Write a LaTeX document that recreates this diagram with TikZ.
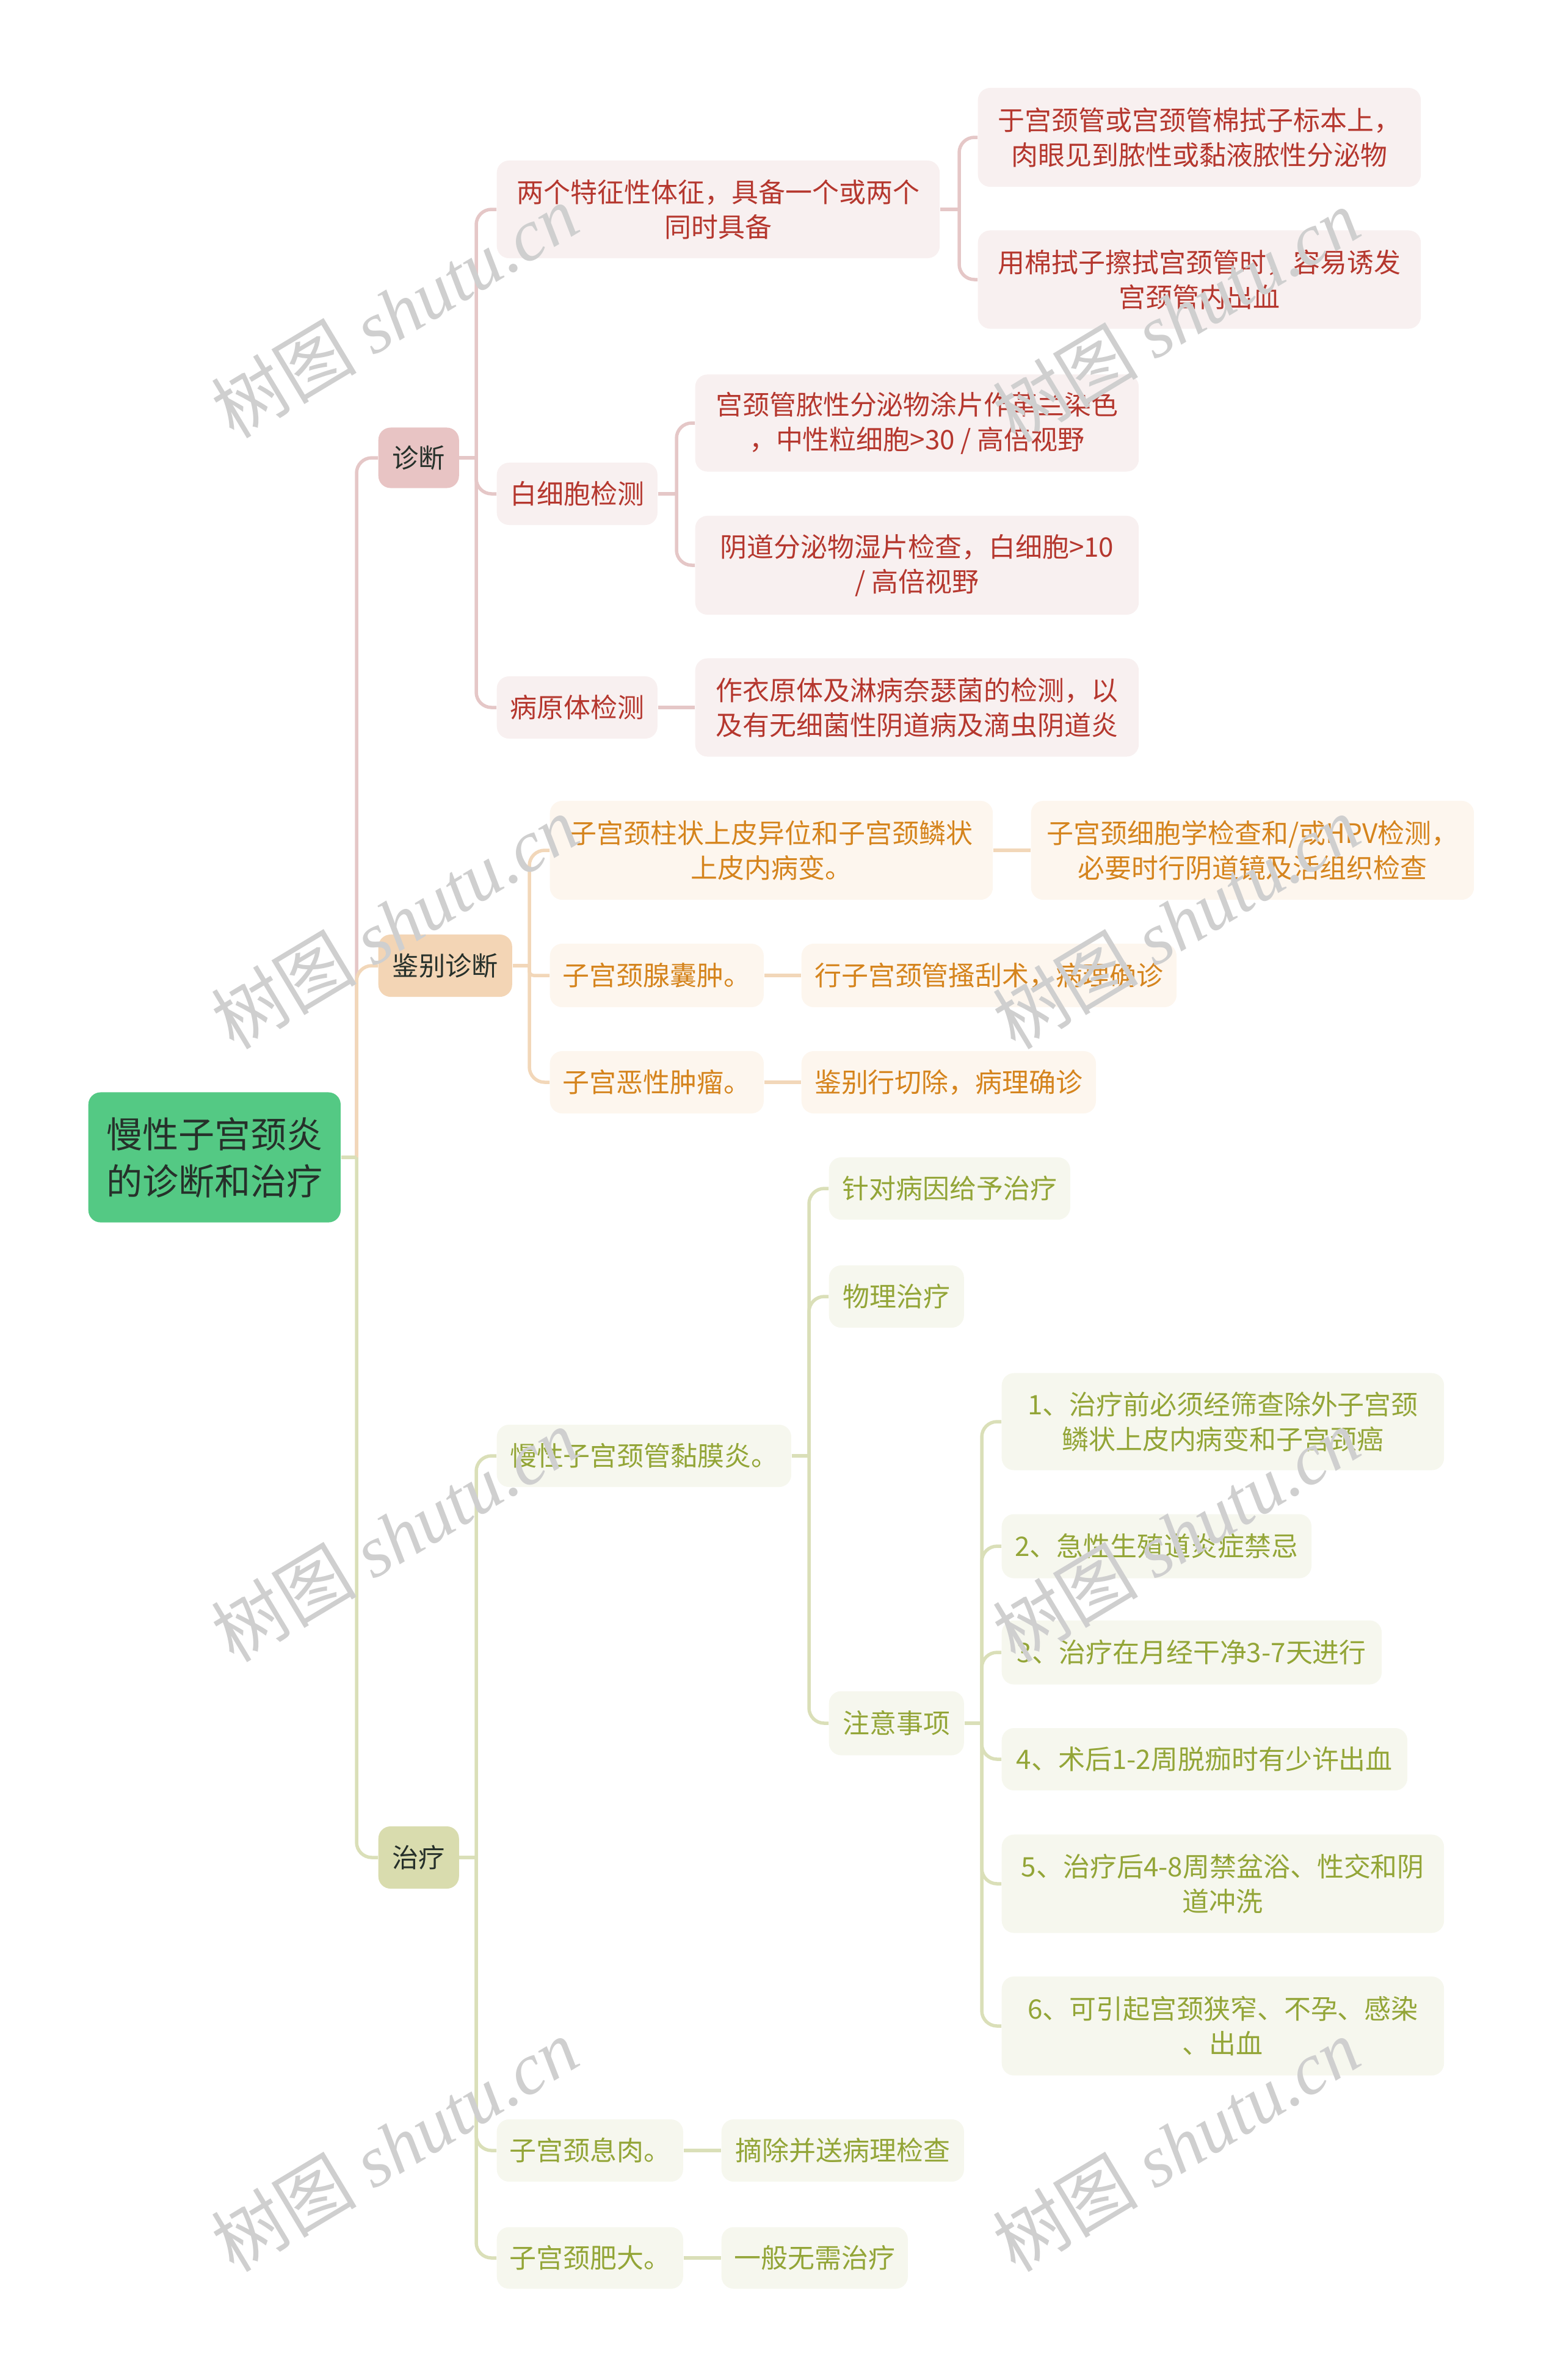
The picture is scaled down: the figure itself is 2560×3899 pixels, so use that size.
\documentclass[tikz,border=0pt]{standalone}
\usepackage{fontspec}
\setmainfont{Noto Sans CJK SC}
\newfontfamily\wmlatin{Liberation Serif}
\definecolor{rootF}{HTML}{54C984}
\definecolor{rootT}{HTML}{26302A}
\definecolor{pinkA}{HTML}{E8C4C4}
\definecolor{pinkB}{HTML}{F8F0F0}
\definecolor{pinkL}{HTML}{E5C7C7}
\definecolor{pinkT}{HTML}{B5372E}
\definecolor{orA}{HTML}{F3D5B5}
\definecolor{orB}{HTML}{FDF6EE}
\definecolor{orL}{HTML}{F2D7B9}
\definecolor{orT}{HTML}{D5841D}
\definecolor{grA}{HTML}{D9DCAE}
\definecolor{grB}{HTML}{F6F7EE}
\definecolor{grL}{HTML}{DADFB8}
\definecolor{grT}{HTML}{93A537}
\definecolor{wm}{HTML}{CFCFCF}
\tikzset{
  bx/.style={anchor=west, rounded corners=0.2cm, inner sep=0pt, align=center,
    font=\fontsize{12.5pt}{16.2pt}\selectfont},
  rootbox/.style={bx, fill=rootF, text=rootT, font=\fontsize{16.8pt}{21.9pt}\selectfont},
  lone/.style={bx, text=rootT, font=\fontsize{12.3pt}{16pt}\selectfont},
  pleaf/.style={bx, fill=pinkB, text=pinkT},
  oleaf/.style={bx, fill=orB, text=orT},
  gleaf/.style={bx, fill=grB, text=grT},
  pline/.style={draw=pinkL, line width=0.055cm, rounded corners=0.25cm},
  oline/.style={draw=orL, line width=0.055cm, rounded corners=0.25cm},
  gline/.style={draw=grL, line width=0.055cm, rounded corners=0.25cm},
  wmark/.style={text=wm, rotate=31, font=\fontsize{34pt}{34pt}\selectfont}
}
\begin{document}
\begin{tikzpicture}[x=0.01cm,y=-0.01cm]
\useasboundingbox (0,0) rectangle (2560,3899);
% root and level one
\node[rootbox, minimum width=4.13cm, minimum height=2.13cm] (root) at (144,1896) {慢性子宫颈炎\\的诊断和治疗};
\node[lone, fill=pinkA, minimum width=1.32cm, minimum height=0.99cm] (zd) at (619,750) {诊断};
\node[lone, fill=orA, minimum width=2.19cm, minimum height=1.02cm] (jb) at (619,1582) {鉴别诊断};
\node[lone, fill=grA, minimum width=1.32cm, minimum height=1.02cm] (zl) at (619,3043) {治疗};
% diagnosis
\node[pleaf, minimum width=7.25cm, minimum height=1.60cm] (a1) at (813,343) {两个特征性体征，具备一个或两个\\同时具备};
\node[pleaf, minimum width=7.25cm, minimum height=1.62cm] (a1c1) at (1601,225) {于宫颈管或宫颈管棉拭子标本上，\\肉眼见到脓性或黏液脓性分泌物};
\node[pleaf, minimum width=7.25cm, minimum height=1.61cm] (a1c2) at (1601,458) {用棉拭子擦拭宫颈管时，容易诱发\\宫颈管内出血};
\node[pleaf, minimum width=2.63cm, minimum height=1.02cm] (a2) at (813,809) {白细胞检测};
\node[pleaf, minimum width=7.26cm, minimum height=1.59cm] (a2c1) at (1138,693) {宫颈管脓性分泌物涂片作革兰染色\\，中性粒细胞>30 / 高倍视野};
\node[pleaf, minimum width=7.26cm, minimum height=1.62cm] (a2c2) at (1138,926) {阴道分泌物湿片检查，白细胞>10\\/ 高倍视野};
\node[pleaf, minimum width=2.63cm, minimum height=1.02cm] (a3) at (813,1159) {病原体检测};
\node[pleaf, minimum width=7.26cm, minimum height=1.61cm] (a3c1) at (1138,1159) {作衣原体及淋病奈瑟菌的检测，以\\及有无细菌性阴道病及滴虫阴道炎};
% differential diagnosis
\node[oleaf, minimum width=7.25cm, minimum height=1.62cm] (b1) at (900,1393) {子宫颈柱状上皮异位和子宫颈鳞状\\上皮内病变。};
\node[oleaf, minimum width=7.25cm, minimum height=1.62cm] (b1c) at (1688,1393) {子宫颈细胞学检查和/或HPV检测，\\必要时行阴道镜及活组织检查};
\node[oleaf, minimum width=3.50cm, minimum height=1.04cm] (b2) at (900,1598) {子宫颈腺囊肿。};
\node[oleaf, minimum width=6.14cm, minimum height=1.04cm] (b2c) at (1312,1598) {行子宫颈管搔刮术，病理确诊};
\node[oleaf, minimum width=3.50cm, minimum height=1.02cm] (b3) at (900,1773) {子宫恶性肿瘤。};
\node[oleaf, minimum width=4.82cm, minimum height=1.02cm] (b3c) at (1312,1773) {鉴别行切除，病理确诊};
% treatment
\node[gleaf, minimum width=4.82cm, minimum height=1.02cm] (c1) at (813,2385) {慢性子宫颈管黏膜炎。};
\node[gleaf, minimum width=3.95cm, minimum height=1.02cm] (c1a) at (1357,1947) {针对病因给予治疗};
\node[gleaf, minimum width=2.21cm, minimum height=1.02cm] (c1b) at (1357,2124) {物理治疗};
\node[gleaf, minimum width=2.21cm, minimum height=1.05cm] (c1c) at (1357,2823) {注意事项};
\node[gleaf, minimum width=7.24cm, minimum height=1.59cm] (n1) at (1640,2329) {1、治疗前必须经筛查除外子宫颈\\鳞状上皮内病变和子宫颈癌};
\node[gleaf, minimum width=5.07cm, minimum height=1.05cm] (n2) at (1640,2533) {2、急性生殖道炎症禁忌};
\node[gleaf, minimum width=6.22cm, minimum height=1.05cm] (n3) at (1640,2707) {3、治疗在月经干净3-7天进行};
\node[gleaf, minimum width=6.64cm, minimum height=1.02cm] (n4) at (1640,2882) {4、术后1-2周脱痂时有少许出血};
\node[gleaf, minimum width=7.24cm, minimum height=1.61cm] (n5) at (1640,3086) {5、治疗后4-8周禁盆浴、性交和阴\\道冲洗};
\node[gleaf, minimum width=7.24cm, minimum height=1.62cm] (n6) at (1640,3319) {6、可引起宫颈狭窄、不孕、感染\\、出血};
\node[gleaf, minimum width=3.05cm, minimum height=1.02cm] (c2) at (813,3523) {子宫颈息肉。};
\node[gleaf, minimum width=3.97cm, minimum height=1.02cm] (c2c) at (1181,3523) {摘除并送病理检查};
\node[gleaf, minimum width=3.05cm, minimum height=1.01cm] (c3) at (813,3699) {子宫颈肥大。};
\node[gleaf, minimum width=3.05cm, minimum height=1.01cm] (c3c) at (1181,3699) {一般无需治疗};
% bus points
\coordinate (trunk) at (584,1896);
\coordinate (zdb) at (780,750);
\coordinate (a1b) at (1571,343);
\coordinate (a2b) at (1108,809);
\coordinate (jbb) at (867,1582);
\coordinate (zlb) at (780,3043);
\coordinate (c1bus) at (1325,2385);
\coordinate (ncb) at (1608,2823);
% connectors: root
\draw[pline] (trunk) |- (zd.west);
\draw[oline] (trunk) |- (jb.west);
\draw[gline] (trunk) |- (zl.west);
\draw[gline] (root.east) -- (trunk);
% diagnosis
\draw[pline] (zd.east) -- (zdb);
\foreach \n in {a1,a2,a3} \draw[pline] (zdb) |- (\n.west);
\draw[pline] (a1.east) -- (a1b);
\foreach \n in {a1c1,a1c2} \draw[pline] (a1b) |- (\n.west);
\draw[pline] (a2.east) -- (a2b);
\foreach \n in {a2c1,a2c2} \draw[pline] (a2b) |- (\n.west);
\draw[pline] (a3.east) -- (a3c1.west);
% differential
\draw[oline] (jb.east) -- (jbb);
\draw[oline] (jbb) |- (b1.west);
\draw[oline, rounded corners=0.07cm] (jbb) |- (b2.west);
\draw[oline] (jbb) |- (b3.west);
\draw[oline] (b1.east) -- (b1c.west);
\draw[oline] (b2.east) -- (b2c.west);
\draw[oline] (b3.east) -- (b3c.west);
% treatment
\draw[gline] (zl.east) -- (zlb);
\foreach \n in {c1,c2,c3} \draw[gline] (zlb) |- (\n.west);
\draw[gline] (c1.east) -- (c1bus);
\foreach \n in {c1a,c1b,c1c} \draw[gline] (c1bus) |- (\n.west);
\draw[gline] (c1c.east) -- (ncb);
\foreach \n in {n1,n2,n3,n4,n5,n6} \draw[gline] (ncb) |- (\n.west);
\draw[gline] (c2.east) -- (c2c.west);
\draw[gline] (c3.east) -- (c3c.west);
% watermarks
\foreach \wx/\wy [count=\i] in {646/510,1926/517,646/1511,1926/1511,646/2515,1926/2515,646/3514,1926/3514}
  \node[wmark] (wm\i) at (\wx,\wy) {树图 {\wmlatin\itshape shutu.cn}};
\end{tikzpicture}
\end{document}
